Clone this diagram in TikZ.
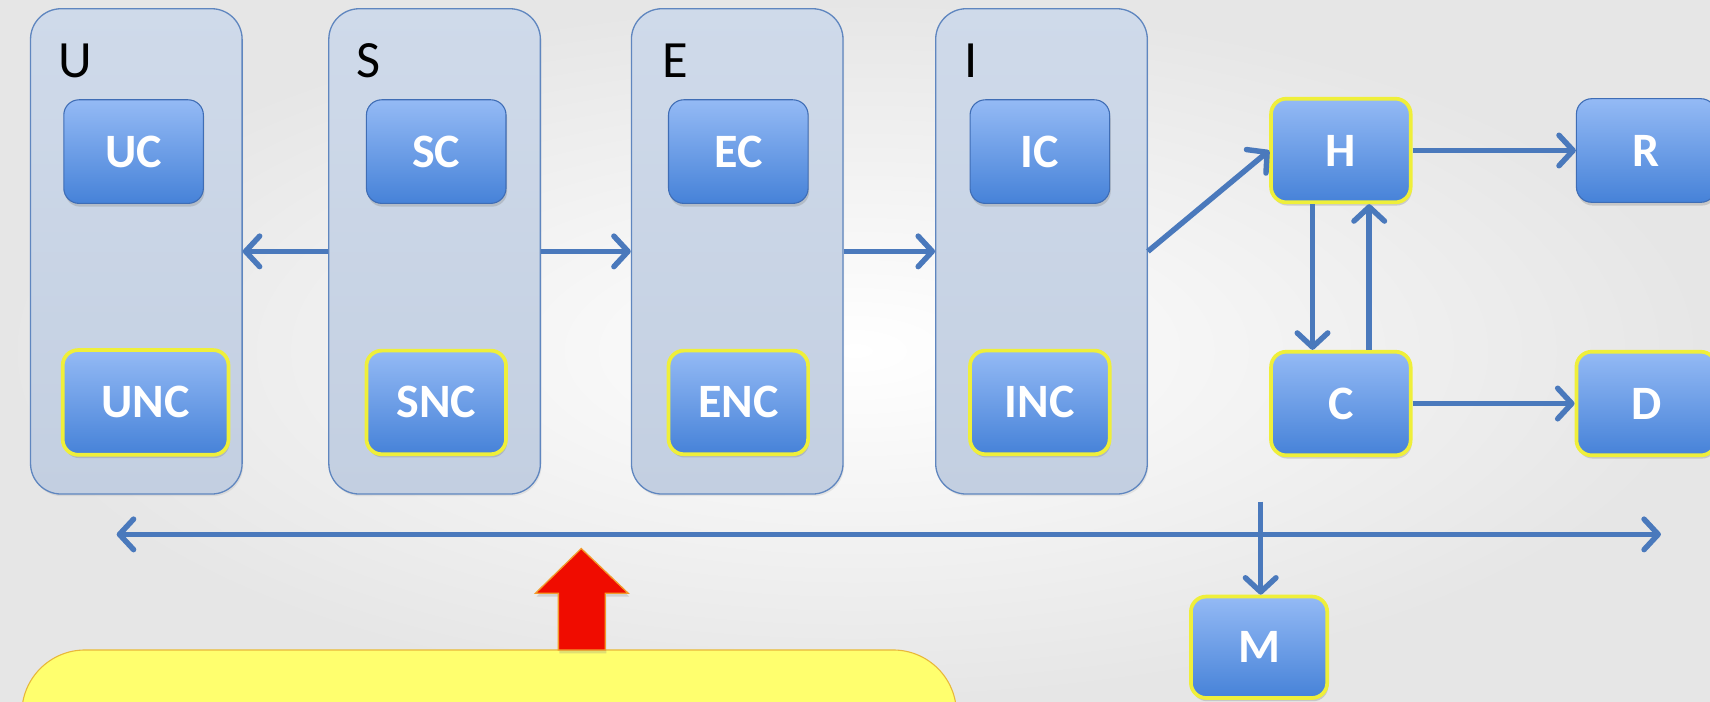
\documentclass[tikz,border=0pt]{standalone}
\usepackage{fontspec}
\setmainfont{Carlito}
\usetikzlibrary{arrows.meta,shadows}
\definecolor{bgout}{HTML}{E6E6E6}
\definecolor{contfill}{HTML}{CFDAEA}
\definecolor{contfillb}{HTML}{C3CFE1}
\definecolor{contline}{HTML}{5F86BF}
\definecolor{boxtop}{HTML}{94BAF5}
\definecolor{boxbot}{HTML}{4682D8}
\definecolor{boxline}{HTML}{3F6DB5}
\definecolor{hl}{HTML}{EFEF3A}
\definecolor{arrowblue}{HTML}{4A79BC}
\definecolor{notefill}{HTML}{FFFF6E}
\definecolor{noteline}{HTML}{E8B83A}
\definecolor{redfill}{HTML}{F00C00}
\definecolor{redline}{HTML}{F39A2A}
\tikzset{
 cont/.style={draw=contline, line width=1.2pt, top color=contfill, bottom color=contfillb, rounded corners=28pt, minimum width=194pt, minimum height=445pt, drop shadow={opacity=0.15, shadow xshift=1pt, shadow yshift=-2pt}},
 clabel/.style={anchor=base west, font=\fontsize{48}{48}\selectfont, text=black, inner sep=0pt},
 bbox/.style={draw=boxline, line width=1pt, top color=boxtop, bottom color=boxbot, rounded corners=14pt, minimum width=128pt, minimum height=95pt, text=white, font=\fontsize{44}{44}\selectfont\bfseries, inner sep=0pt, drop shadow={opacity=0.3, shadow xshift=1pt, shadow yshift=-3pt}},
 hbox/.style={bbox, draw=hl, line width=3.4pt},
 arr/.style={draw=arrowblue, line width=5pt, -{Straight Barb[length=13pt,width=28pt,round]}},
 arrb/.style={draw=arrowblue, line width=5pt, {Straight Barb[length=13pt,width=28pt,round]}-{Straight Barb[length=13pt,width=28pt,round]}},
}
\begin{document}
\begin{tikzpicture}[x=1pt,y=-1pt]
\useasboundingbox (0,0) rectangle (1568,643);
\clip (0,0) rectangle (1568,643);
\shade[inner color=white, outer color=bgout] (0,0) rectangle (1568,643);
% containers
\node[cont] (U) at (125,230.5) {};
\node[cont] (S) at (398.5,230.5) {};
\node[cont] (E) at (676,230.5) {};
\node[cont] (I) at (955,230.5) {};
\node[clabel] (Ul) at (53,71) {U};
\node[clabel] (Sl) at (327,71) {S};
\node[clabel] (El) at (607,71) {E};
\node[clabel] (Il) at (884,71) {I};
% boxes
\node[bbox] (UC) at (122.5,139) {UC};
\node[hbox, minimum width=152pt, minimum height=96pt] (UNC) at (133.5,369) {UNC};
\node[bbox] (SC) at (400,139) {SC};
\node[hbox] (SNC) at (400,369) {SNC};
\node[bbox] (EC) at (677,139) {EC};
\node[hbox] (ENC) at (677,369) {ENC};
\node[bbox] (IC) at (953.5,139) {IC};
\node[hbox] (INC) at (953.5,369) {INC};
\node[hbox] (H) at (1229.5,138) {H};
\node[bbox] (R) at (1509.5,138) {R};
\node[hbox] (C) at (1229.5,370) {C};
\node[hbox] (D) at (1509.5,370) {D};
\node[hbox, minimum width=125pt, minimum height=93pt] (M) at (1154.5,593.5) {M};
% connectors
\draw[arr] (S.west) -- (U.east);
\draw[arr] (S.east) -- (E.west);
\draw[arr] (E.east) -- (I.west);
\draw[arr] (I.east) -- (H.west);
\draw[arr] (H.east) -- (R.west);
\draw[arr] ([xshift=-26pt]H.south) -- ([xshift=-26pt]C.north);
\draw[arr] ([xshift=26pt]C.north) -- ([xshift=26pt]H.south);
\draw[arr] (C.east) -- (D.west);
\coordinate (BL) at (107,490);
\coordinate (BR) at (1523,490);
\draw[arrb] (BL) -- (BR);
\coordinate (Mt) at (1156,460);
\draw[arr] (Mt) -- (Mt |- M.north);
% note and red arrow
\draw[fill=notefill, draw=noteline, line width=1pt, rounded corners=58pt] (20,596) rectangle (877,720);
\draw[fill=redfill, draw=redline, line width=1.2pt, drop shadow={opacity=0.25, shadow xshift=1pt, shadow yshift=-3pt}] (512,596) -- (512,544) -- (491,544) -- (533,503) -- (576,544) -- (555,544) -- (555,596) -- cycle;
\end{tikzpicture}
\end{document}
